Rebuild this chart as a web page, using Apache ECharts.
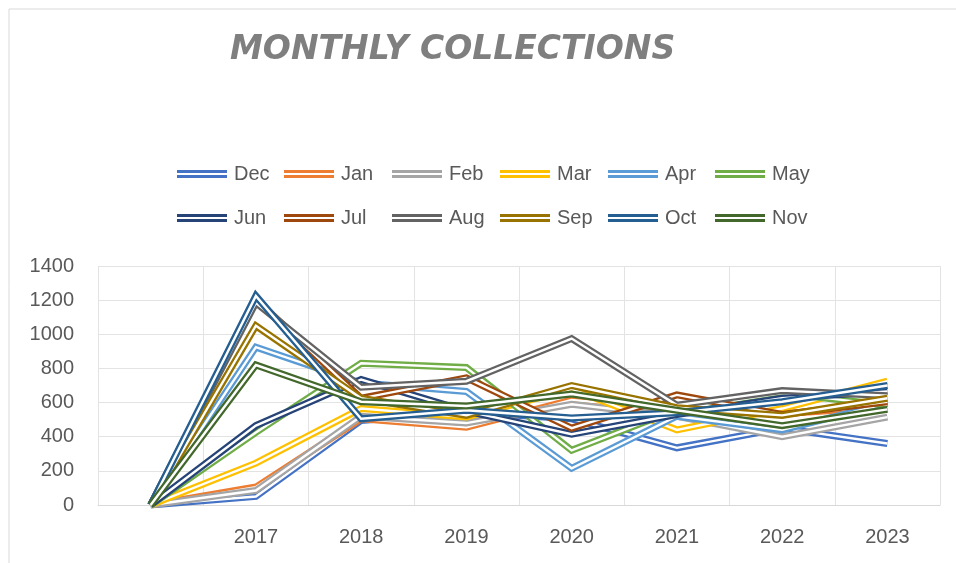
<!DOCTYPE html>
<html>
<head>
<meta charset="utf-8">
<script src="https://cdn.jsdelivr.net/npm/echarts@6/dist/echarts.min.js"></script>
<style>
html,body{margin:0;padding:0;background:#fff;}
#chart{width:956px;height:563px;}
</style>
</head>
<body>
<div id="chart"></div>
<script>
const categories = ['', '2017', '2018', '2019', '2020', '2021', '2022', '2023'];
const yTicks = [0, 200, 400, 600, 800, 1000, 1200, 1400];
const seriesNames = ['Dec', 'Jan', 'Feb', 'Mar', 'Apr', 'May', 'Jun', 'Jul', 'Aug', 'Sep', 'Oct', 'Nov'];
const seriesColors = ['#4472C4', '#ED7D31', '#A5A5A5', '#FFC000', '#5B9BD5', '#70AD47',
                      '#264478', '#9E480E', '#636363', '#997300', '#255E91', '#43682B'];

const dec = [0, 50, 495, 545, 505, 335, 450, 360];
const jan = [0, 105, 505, 455, 615, 560, 535, 575];
const feb = [0, 85, 520, 480, 590, 520, 400, 515];
const mar = [0, 245, 565, 515, 680, 440, 565, 725];
const apr = [0, 925, 715, 665, 215, 520, 440, 595];
const may = [0, 425, 830, 805, 320, 560, 655, 585];
const jun = [0, 465, 735, 550, 415, 530, 625, 665];
const jul = [0, 1205, 625, 745, 450, 645, 530, 605];
const aug = [0, 1185, 690, 725, 975, 585, 670, 640];
const sep = [0, 1050, 625, 525, 700, 570, 525, 625];
const oct = [0, 1225, 505, 555, 510, 540, 605, 700];
const nov = [0, 820, 605, 580, 650, 555, 465, 560];

const seriesData = [dec, jan, feb, mar, apr, may, jun, jul, aug, sep, oct, nov];

const FONT = 'Liberation Sans';
const TXT = '#595959';
const GRIDC = '#e3e3e3';

// legend layout (two rows of six fixed columns)
const legendCols = [177, 284, 392, 500, 608, 715];
const legendRows = [164, 208];

const series = [];
seriesNames.forEach(function (name, i) {
  series.push({
    name: name,
    type: 'line',
    data: seriesData[i],
    color: seriesColors[i],
    symbol: 'none',
    showSymbol: false,
    lineStyle: { width: 7, color: seriesColors[i], cap: 'butt', join: 'miter' },
    emphasis: { disabled: true },
    animation: false
  });
  series.push({
    name: name + '_gap',
    type: 'line',
    data: seriesData[i],
    color: '#ffffff',
    symbol: 'none',
    showSymbol: false,
    silent: true,
    lineStyle: { width: 2.4, color: '#ffffff', cap: 'butt', join: 'miter' },
    emphasis: { disabled: true },
    animation: false
  });
});

const legends = seriesNames.map(function (name, i) {
  return {
    data: [name],
    left: legendCols[i % 6],
    top: legendRows[Math.floor(i / 6)],
    orient: 'horizontal',
    padding: 0,
    itemWidth: 50,
    itemHeight: 8,
    itemGap: 0,
    icon: 'path://M0,0H50V3H0Z M0,5H50V8H0Z',
    selectedMode: false,
    textStyle: { fontFamily: FONT, fontSize: 20, color: TXT, padding: [0, 0, 0, 2] }
  };
});

const chart = echarts.init(document.getElementById('chart'), null, { renderer: 'canvas' });
chart.setOption({
  backgroundColor: '#ffffff',
  animation: false,
  title: {
    text: 'MONTHLY COLLECTIONS',
    left: 230,
    top: 34,
    padding: 0,
    textStyle: {
      fontFamily: 'DejaVu Sans',
      fontStyle: 'italic',
      fontWeight: 'bold',
      fontSize: 33,
      color: '#7f7f7f'
    }
  },
  graphic: [{
    type: 'rect',
    shape: { x: 9, y: 9, width: 1000, height: 700 },
    style: { fill: 'none', stroke: '#d9d9d9', lineWidth: 1 },
    silent: true,
    z: -10
  }],
  legend: legends,
  grid: { left: 98, right: 16, top: 266, bottom: 58, containLabel: false },
  xAxis: {
    type: 'category',
    data: categories,
    boundaryGap: true,
    axisLine: { show: true, lineStyle: { color: '#d9d9d9', width: 1 } },
    axisTick: { show: false },
    splitLine: { show: true, lineStyle: { color: GRIDC, width: 1 } },
    axisLabel: { fontFamily: FONT, fontSize: 20, color: TXT, margin: 22 }
  },
  yAxis: {
    type: 'value',
    min: yTicks[0],
    max: yTicks[yTicks.length - 1],
    interval: yTicks[1] - yTicks[0],
    axisLine: { show: false },
    axisTick: { show: false },
    splitLine: { show: true, lineStyle: { color: GRIDC, width: 1 } },
    axisLabel: {
      fontFamily: FONT, fontSize: 20, color: TXT, margin: 24,
      formatter: function (v) { return String(v); }
    }
  },
  series: series
});
</script>
</body>
</html>
